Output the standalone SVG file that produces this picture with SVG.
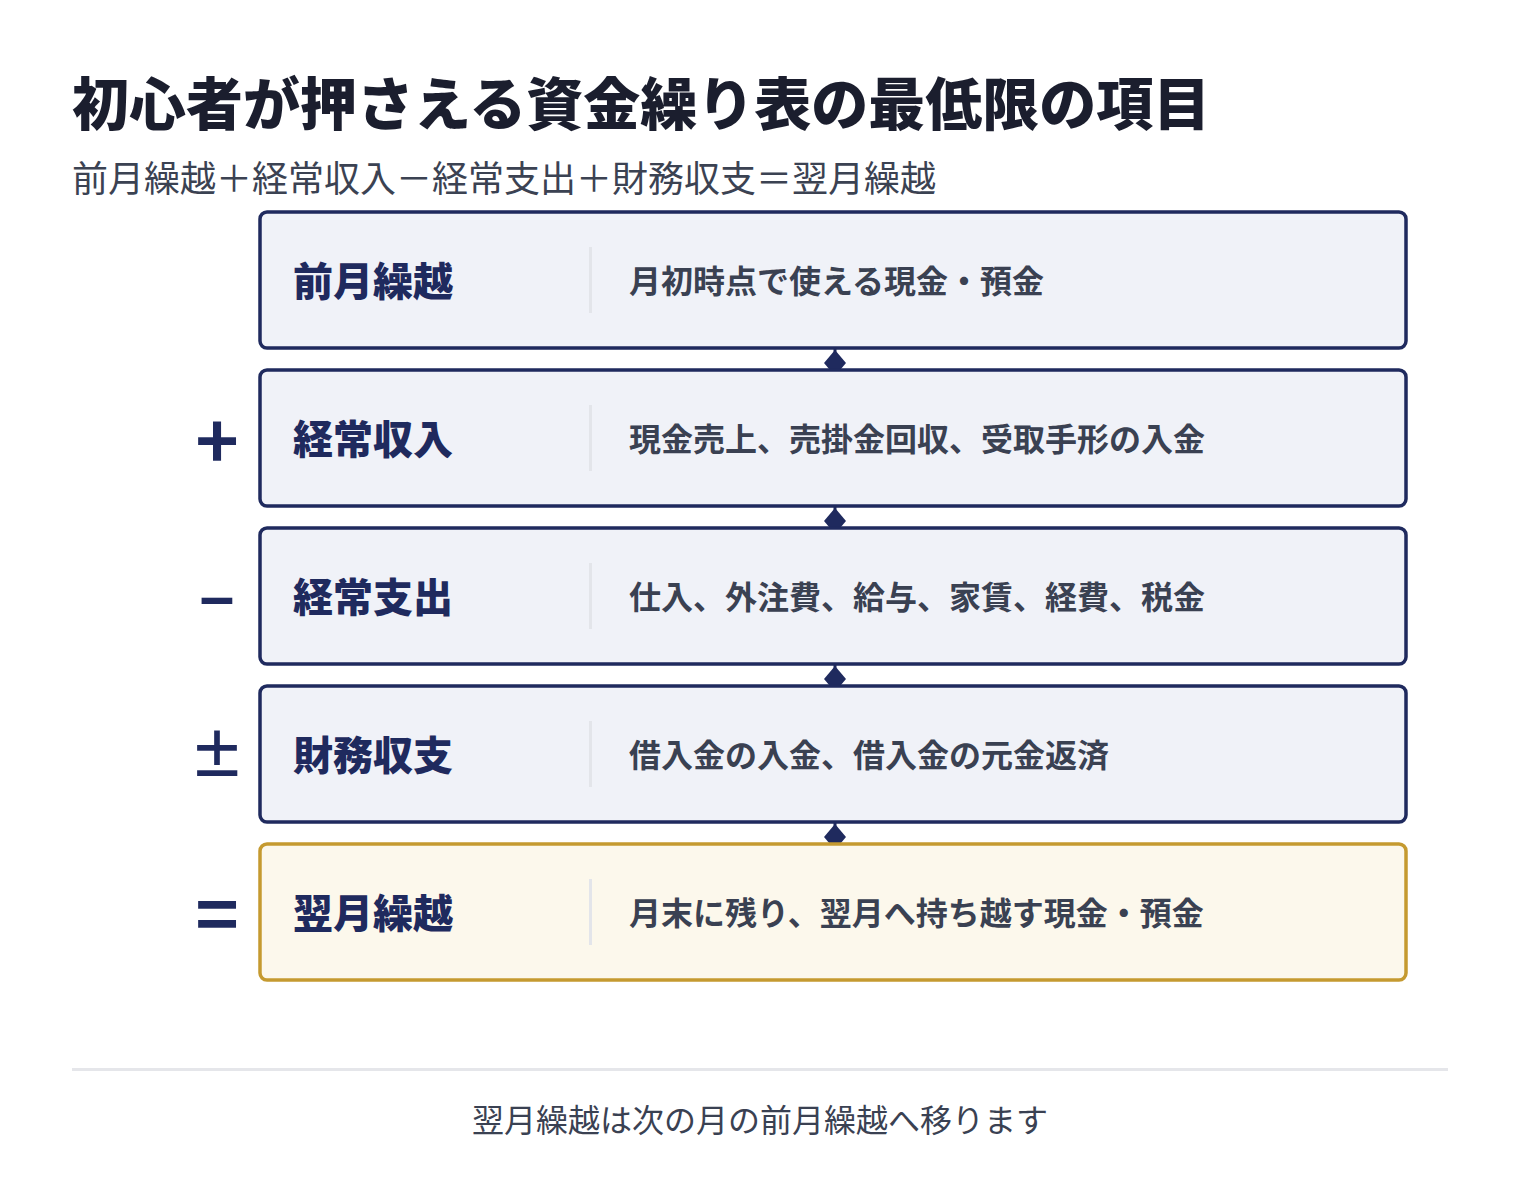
<svg xmlns="http://www.w3.org/2000/svg" width="1520" height="1196" viewBox="0 0 1520 1196">
  <defs>
    <style>
      .jp { font-family: "Noto Sans CJK JP", "Noto Sans", sans-serif; }
      .title { font-size: 57px; font-weight: 900; fill: #1b1e2e; }
      .sub { font-size: 36px; font-weight: 400; fill: #3b4252; }
      .box { fill: #f0f2f8; stroke: #1f2a5e; stroke-width: 3.5; }
      .box.gold { fill: #fcf8ec; stroke: #c59a30; }
      .label { font-size: 40px; font-weight: 900; fill: #1f2a5e; }
      .desc { font-size: 32px; font-weight: 600; fill: #3a4152; }
      .div { fill: #e3e5ea; }
      .op { font-weight: 700; fill: #1f2a5e; text-anchor: middle; }
      .foot { font-size: 32px; font-weight: 400; fill: #3a4152; text-anchor: middle; }
      .conn { stroke: #1f2a5e; stroke-width: 3; fill: none; }
    </style>
    <marker id="diamond" markerUnits="userSpaceOnUse" viewBox="0 0 26 22" refX="13" refY="11" markerWidth="26" markerHeight="22" orient="auto">
      <polygon points="13,0 26,11 13,22 0,11" fill="#1f2a5e"/>
    </marker>
  </defs>
  <rect width="1520" height="1196" fill="#ffffff"/>

  <g id="header">
    <text class="jp title" x="72" y="100" dominant-baseline="central">初心者が押さえる資金繰り表の最低限の項目</text>
    <text class="jp sub" x="72" y="176" dominant-baseline="central">前月繰越＋経常収入－経常支出＋財務収支＝翌月繰越</text>
  </g>

  <g id="connectors">
    <path class="conn" d="M835 349 L835 363" marker-end="url(#diamond)"/>
    <path class="conn" d="M835 507 L835 521" marker-end="url(#diamond)"/>
    <path class="conn" d="M835 665 L835 679" marker-end="url(#diamond)"/>
    <path class="conn" d="M835 823 L835 837" marker-end="url(#diamond)"/>
  </g>

  <g id="node-zengetsu">
    <rect class="box" x="260" y="212" width="1146" height="136" rx="7"/>
    <text class="jp label" x="293" y="279" dominant-baseline="central">前月繰越</text>
    <rect class="div" x="589" y="247" width="3" height="66"/>
    <text class="jp desc" x="629" y="279" dominant-baseline="central">月初時点で使える現金・預金</text>
  </g>

  <g id="node-keijo-shunyu">
    <text class="jp op" x="217" y="436" font-size="74" dominant-baseline="central">+</text>
    <rect class="box" x="260" y="370" width="1146" height="136" rx="7"/>
    <text class="jp label" x="293" y="437" dominant-baseline="central">経常収入</text>
    <rect class="div" x="589" y="405" width="3" height="66"/>
    <text class="jp desc" x="629" y="437" dominant-baseline="central">現金売上、売掛金回収、受取手形の入金</text>
  </g>

  <g id="node-keijo-shishutsu">
    <text class="jp op" x="217" y="596" font-size="60" dominant-baseline="central">−</text>
    <rect class="box" x="260" y="528" width="1146" height="136" rx="7"/>
    <text class="jp label" x="293" y="595" dominant-baseline="central">経常支出</text>
    <rect class="div" x="589" y="563" width="3" height="66"/>
    <text class="jp desc" x="629" y="595" dominant-baseline="central">仕入、外注費、給与、家賃、経費、税金</text>
  </g>

  <g id="node-zaimu">
    <text class="jp op" x="217" y="751" font-size="56" dominant-baseline="central">±</text>
    <rect class="box" x="260" y="686" width="1146" height="136" rx="7"/>
    <text class="jp label" x="293" y="753" dominant-baseline="central">財務収支</text>
    <rect class="div" x="589" y="721" width="3" height="66"/>
    <text class="jp desc" x="629" y="753" dominant-baseline="central">借入金の入金、借入金の元金返済</text>
  </g>

  <g id="node-yokugetsu">
    <text class="jp op" x="217" y="909" font-size="74" dominant-baseline="central">=</text>
    <rect class="box gold" x="260" y="844" width="1146" height="136" rx="7"/>
    <text class="jp label" x="293" y="911" dominant-baseline="central">翌月繰越</text>
    <rect class="div" x="589" y="879" width="3" height="66"/>
    <text class="jp desc" x="629" y="911" dominant-baseline="central">月末に残り、翌月へ持ち越す現金・預金</text>
  </g>

  <g id="footer">
    <rect x="72" y="1068" width="1376" height="3" fill="#e5e6ea"/>
    <text class="jp foot" x="760" y="1118" dominant-baseline="central">翌月繰越は次の月の前月繰越へ移ります</text>
  </g>
</svg>
